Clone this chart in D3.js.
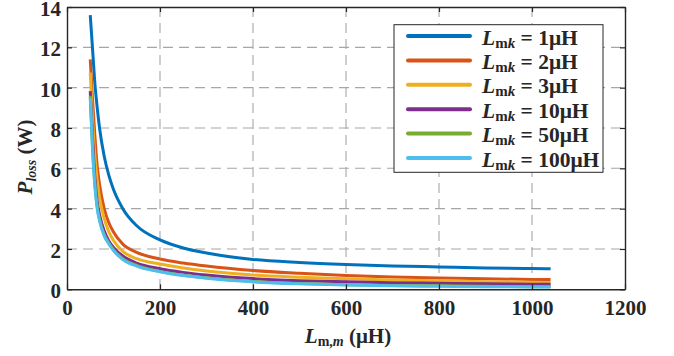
<!DOCTYPE html>
<html>
<head>
<meta charset="utf-8">
<script src="https://cdn.jsdelivr.net/npm/d3@7"></script>
<style>
  body { margin: 0; background: #fff; }
  text { font-family: "Liberation Serif", "Times New Roman", serif; font-weight: bold; fill: #262626; }
</style>
</head>
<body>
<svg width="674" height="356"></svg>
<script>
// inductance grid (uH) shared by all series
const lmm = [50, 55, 60, 65, 70, 80, 90, 100, 120, 150, 200, 250, 300, 400, 500, 600, 700, 800, 900, 1000, 1040];

// power loss (W)
const loss1uH   = [13.6, 11.9, 10.2, 9.0, 8.0, 6.6, 5.65, 4.95, 4.0, 3.15, 2.45, 2.05, 1.8, 1.48, 1.33, 1.23, 1.16, 1.11, 1.06, 1.03, 1.02];
const loss2uH   = [11.4, 9.4, 7.6, 6.1, 5.2, 4.0, 3.3, 2.84, 2.24, 1.83, 1.5, 1.3, 1.15, 0.93, 0.79, 0.68, 0.61, 0.56, 0.52, 0.49, 0.48];
const loss3uH   = [10.75, 8.4, 6.6, 5.4, 4.55, 3.5, 2.85, 2.42, 1.88, 1.52, 1.25, 1.06, 0.91, 0.71, 0.60, 0.52, 0.46, 0.42, 0.38, 0.35, 0.34];
const loss10uH  = [9.83, 7.5, 5.5, 4.35, 3.7, 2.9, 2.4, 2.08, 1.65, 1.3, 1.02, 0.84, 0.71, 0.53, 0.43, 0.37, 0.33, 0.30, 0.27, 0.25, 0.245];
const loss50uH  = [9.6, 7.0, 5.2, 4.08, 3.47, 2.71, 2.3, 1.97, 1.52, 1.18, 0.89, 0.70, 0.57, 0.39, 0.29, 0.23, 0.19, 0.17, 0.15, 0.13, 0.13];
const loss100uH = [9.5, 6.9, 5.1, 4.0, 3.4, 2.65, 2.25, 1.92, 1.48, 1.15, 0.87, 0.68, 0.55, 0.37, 0.27, 0.21, 0.17, 0.15, 0.13, 0.115, 0.11];

const legendValues = ['1', '2', '3', '10', '50', '100'];
const colors = ['#0072BD', '#D95319', '#EDB120', '#7E2F8E', '#77AC30', '#4DBEEE'];
const xTicks = [0, 200, 400, 600, 800, 1000, 1200];
const yTicks = [0, 2, 4, 6, 8, 10, 12, 14];

const series = [loss1uH, loss2uH, loss3uH, loss10uH, loss50uH, loss100uH];

const margin = {top: 7, right: 49, bottom: 66.7, left: 67};
const width = 674 - margin.left - margin.right;
const height = 356 - margin.top - margin.bottom;

const svg = d3.select('svg');
const g = svg.append('g').attr('transform', `translate(${margin.left},${margin.top})`);

const x = d3.scaleLinear().domain([0, 1200]).range([0, width]);
const y = d3.scaleLinear().domain([0, 14]).range([height, 0]);

// dashed grid
g.append('g').selectAll('line')
  .data(xTicks.slice(1, -1))
  .join('line')
    .attr('x1', d => x(d)).attr('x2', d => x(d))
    .attr('y1', 0).attr('y2', height)
    .attr('stroke', '#a6a6a6').attr('stroke-width', 1.1).attr('stroke-dasharray', '10,6');
g.append('g').selectAll('line')
  .data(yTicks.slice(1, -1))
  .join('line')
    .attr('y1', d => y(d)).attr('y2', d => y(d))
    .attr('x1', 0).attr('x2', width)
    .attr('stroke', '#a6a6a6').attr('stroke-width', 1.1).attr('stroke-dasharray', '10,6');

// curves
const line = d3.line()
  .x((d, i) => x(lmm[i]))
  .y(d => y(d))
  .curve(d3.curveMonotoneX);

g.append('g').selectAll('path')
  .data(series)
  .join('path')
    .attr('d', line)
    .attr('fill', 'none')
    .attr('stroke', (d, i) => colors[i])
    .attr('stroke-width', 3);

// axes, MATLAB style with inward ticks and a box
const axisStyle = sel => {
  sel.select('.domain').attr('stroke', '#262626').attr('stroke-width', 1.4);
  sel.selectAll('.tick line').attr('stroke', '#262626').attr('stroke-width', 1.2);
  sel.selectAll('.tick text').style('font-size', '21px').attr('fill', '#262626');
};

g.append('g')
  .attr('transform', `translate(0,${height})`)
  .call(d3.axisBottom(x).tickValues(xTicks).tickFormat(d3.format('d')).tickSize(-5).tickSizeOuter(0).tickPadding(11))
  .call(axisStyle)
  .call(a => a.selectAll('.tick text').attr('dy', '0.71em'));

g.append('g')
  .call(d3.axisLeft(y).tickValues(yTicks).tickFormat(d3.format('d')).tickSize(-5).tickSizeOuter(0).tickPadding(6))
  .call(axisStyle)
  .call(a => a.selectAll('.tick text').attr('dy', '0.4em'));

g.append('g')
  .call(d3.axisTop(x).tickValues(xTicks).tickSize(-5).tickSizeOuter(0).tickFormat(''))
  .call(axisStyle);

g.append('g')
  .attr('transform', `translate(${width},0)`)
  .call(d3.axisRight(y).tickValues(yTicks).tickSize(-5).tickSizeOuter(0).tickFormat(''))
  .call(axisStyle);

// x label
const xl = svg.append('text')
  .attr('x', 348).attr('y', 343)
  .attr('text-anchor', 'middle')
  .style('font-size', '21px');
xl.append('tspan').style('font-style', 'italic').text('L');
xl.append('tspan').attr('dy', 3).style('font-size', '14px').text('m,');
xl.append('tspan').style('font-size', '14px').style('font-style', 'italic').text('m');
xl.append('tspan').attr('dy', -3).text(' (μH)');

// y label
const yl = svg.append('text')
  .attr('transform', 'translate(32,157) rotate(-90)')
  .attr('text-anchor', 'middle')
  .style('font-size', '21px');
yl.append('tspan').style('font-style', 'italic').text('P');
yl.append('tspan').attr('dy', 4).style('font-size', '14px').style('font-style', 'italic').text('loss');
yl.append('tspan').attr('dy', -4).text(' (W)');

// legend
const legend = svg.append('g').attr('transform', 'translate(394,24.7)');
legend.append('rect')
  .attr('width', 209).attr('height', 147.6)
  .attr('fill', '#fff').attr('stroke', '#262626').attr('stroke-width', 1);

const rows = legend.selectAll('g.row')
  .data(legendValues)
  .join('g')
    .attr('class', 'row')
    .attr('transform', (d, i) => `translate(0,${11.3 + i * 24.4})`);

rows.append('line')
  .attr('x1', 14).attr('x2', 76)
  .attr('stroke', (d, i) => colors[i])
  .attr('stroke-width', 4)
  .attr('stroke-linecap', 'round');

const lt = rows.append('text')
  .attr('x', 88).attr('y', 8.5)
  .style('font-size', '21.5px');
lt.append('tspan').style('font-style', 'italic').text('L');
lt.append('tspan').attr('dy', 3).style('font-size', '15px').text('m');
lt.append('tspan').style('font-size', '15px').style('font-style', 'italic').text('k');
lt.append('tspan').attr('dy', -3).text(d => ` = ${d}μH`);
</script>
</body>
</html>
